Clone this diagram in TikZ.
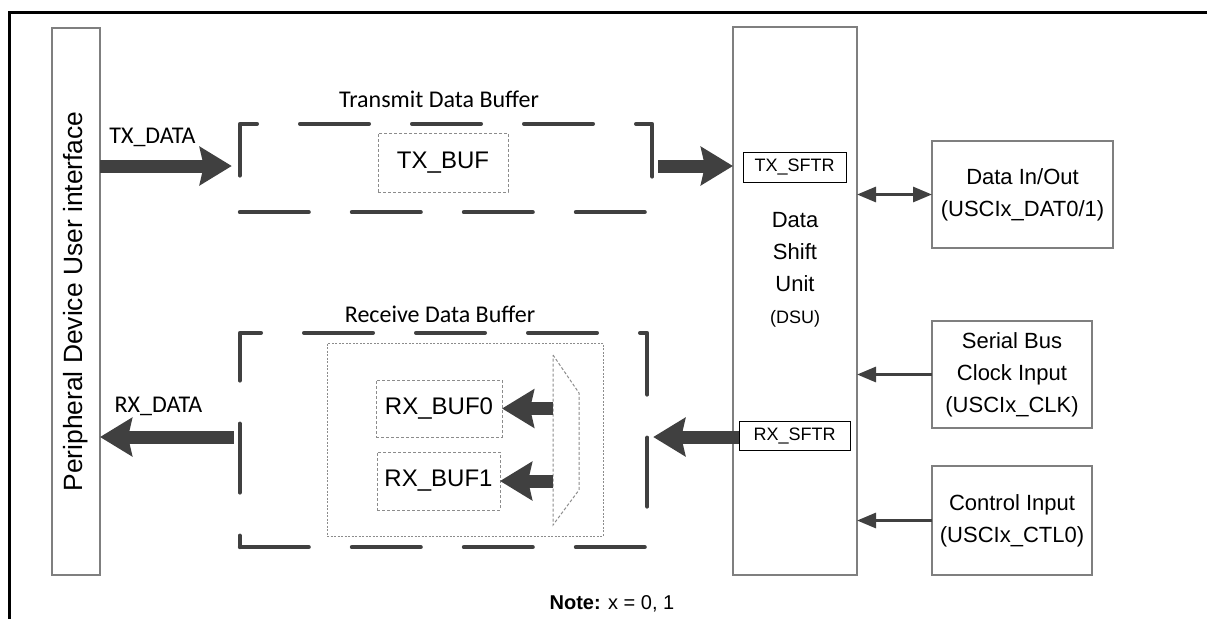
\documentclass[tikz,border=0pt]{standalone}
\usepackage{fontspec}
\setmainfont{Liberation Sans}
\newfontfamily\calibrifont{Carlito}
\usepackage{tikz}
\usetikzlibrary{arrows.meta, positioning, calc}

\definecolor{arrowgray}{HTML}{404040}
\definecolor{boxgray}{HTML}{7F7F7F}
\definecolor{dotgray}{HTML}{8C8C8C}

\begin{document}
\begin{tikzpicture}[
    x=1pt, y=-1pt,
    box/.style={rectangle, draw=boxgray, line width=1.3pt, inner sep=0pt, outer sep=0pt, align=center, font=\fontsize{22}{32}\selectfont},
    shiftreg/.style={rectangle, draw=black, line width=1pt, inner sep=0pt, outer sep=0pt, font=\fontsize{18}{22}\selectfont},
    dotreg/.style={rectangle, draw=dotgray, line width=1pt, dash pattern=on 3pt off 2pt, inner sep=0pt, outer sep=0pt, font=\fontsize{24}{28}\selectfont},
    bufframe/.style={draw=arrowgray, line width=4pt, line cap=round, line join=round, dash pattern=on 69pt off 43pt},
    bigarrow/.style={draw=arrowgray, line width=13pt, -{Stealth[length=32pt, width=38pt, inset=4pt]}},
    thinarrow/.style={draw=arrowgray, line width=3pt, -{Triangle[length=19pt, width=15pt]}},
    lbl/.style={inner sep=0pt, anchor=base, font=\calibrifont\fontsize{24}{28}\selectfont}
]
    \useasboundingbox (0,0) rectangle (1207,619);
    % outer frame, open at right and bottom
    \draw[line width=3pt] (1207,12) -- (9,12) -- (9,619);

    % left and middle blocks
    \node (periph) [box, rotate=90, minimum width=547pt, minimum height=48pt, font=\fontsize{26.4}{30}\selectfont] at (76,301.5) {Peripheral Device User interface};
    \node (dsu) [box, minimum width=124pt, minimum height=548pt] at (795,301) {};
    \node (dsutext) [align=center, inner sep=0pt, font=\fontsize{22}{32}\selectfont] at (795,270) {Data\\Shift\\Unit\\{\fontsize{18}{32}\selectfont(DSU)}};
    \node (txsftr) [shiftreg, minimum width=103pt, minimum height=30pt] at (794.5,167) {TX\_SFTR};
    \node (rxsftr) [shiftreg, minimum width=111pt, minimum height=29pt] at (794.5,435.5) {RX\_SFTR};

    % pins
    \node (datio) [box, minimum width=181pt, minimum height=107pt] at (1022.5,194.5) {Data In/Out\\(USCIx\_DAT0/1)};
    \node (sclk) [box, minimum width=160pt, minimum height=107pt] at (1012,374.5) {Serial Bus\\Clock Input\\(USCIx\_CLK)};
    \node (ctl) [box, minimum width=160pt, minimum height=109pt] at (1012,520.5) {Control Input\\(USCIx\_CTL0)};

    % transmit buffer
    \node (txbuf) [minimum width=412pt, minimum height=88pt, inner sep=0pt] at (446,168) {};
    \draw[bufframe] (txbuf.south west) -- (txbuf.south east) -- (txbuf.north east) -- (txbuf.north west) -- cycle;
    \node (txbufreg) [dotreg, minimum width=130pt, minimum height=59pt] at (443,162.5) {TX\_BUF};
    \node [lbl] at (439,107) {Transmit Data Buffer};

    % receive buffer
    \node (rxbuf) [minimum width=407pt, minimum height=214pt, inner sep=0pt] at (443.5,440) {};
    \draw[bufframe] (rxbuf.south west) -- (rxbuf.south east) -- (rxbuf.north east) -- (rxbuf.north west) -- cycle;
    \node (rxgroup) [rectangle, draw=dotgray, line width=1pt, dash pattern=on 2pt off 1.5pt, minimum width=276pt, minimum height=193pt] at (465,439.5) {};
    \node (rxbufa) [dotreg, minimum width=126pt, minimum height=57pt] at (439,408.5) {RX\_BUF0};
    \node (rxbufb) [dotreg, minimum width=123pt, minimum height=58pt] at (438.5,481) {RX\_BUF1};
    \node [lbl] at (440,322) {Receive Data Buffer};

    % selector
    \coordinate (muxtl) at (553,355);
    \coordinate (muxbl) at (553,525);
    \draw[draw=dotgray, line width=1pt, dash pattern=on 3pt off 2pt] (muxtl) -- (579,393) -- (579,490) -- (muxbl) -- cycle;
    \draw[bigarrow] (muxtl |- rxbufa) -- (rxbufa.east);
    \draw[bigarrow] (muxtl |- rxbufb) -- (rxbufb.east);

    % data paths
    \coordinate (txrow) at (0,166);
    \coordinate (rxrow) at (0,437);
    \node [lbl] at (152.5,143) {TX\_DATA};
    \node [lbl] at (158.5,412) {RX\_DATA};
    \draw[bigarrow] (periph.south |- txrow) -- ([xshift=-8pt]txbuf.west |- txrow);
    \draw[bigarrow] ([xshift=6pt]txbuf.east |- txrow) -- (dsu.west |- txrow);
    \draw[bigarrow] (rxsftr.west |- rxrow) -- ([xshift=6pt]rxbuf.east |- rxrow);
    \draw[bigarrow] ([xshift=-6pt]rxbuf.west |- rxrow) -- (periph.south |- rxrow);

    % pin connections
    \draw[thinarrow, {Triangle[length=19pt, width=15pt]}-{Triangle[length=19pt, width=15pt]}] (dsu.east |- datio) -- (datio.west);
    \draw[thinarrow] (sclk.west) -- (dsu.east |- sclk);
    \draw[thinarrow] (ctl.west) -- (dsu.east |- ctl);

    \node (note) [inner sep=0pt, anchor=base, font=\fontsize{20}{24}\selectfont] at (612,609) {\textbf{Note:} x = 0, 1};
\end{tikzpicture}
\end{document}
